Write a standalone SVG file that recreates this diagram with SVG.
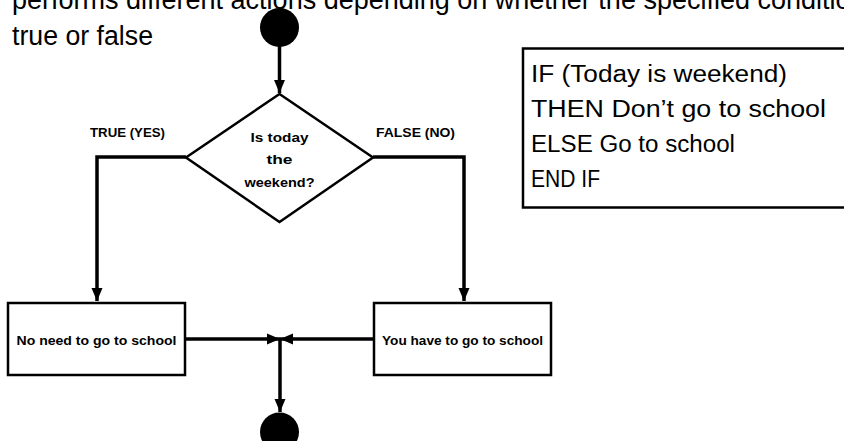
<svg xmlns="http://www.w3.org/2000/svg" width="844" height="441" viewBox="0 0 844 441">
<defs>
<style>
.intro{font-family:"Liberation Sans",Arial,sans-serif;font-size:27px;fill:#000}
.lbl{font-family:"Liberation Sans",Arial,sans-serif;font-size:13px;font-weight:bold;fill:#000}
.code{font-family:"Liberation Sans",Arial,sans-serif;font-size:23px;fill:#000}
.shape{fill:#fff;stroke:#000;stroke-width:2.5}
.term{fill:#000;stroke:none}
.conn{fill:none;stroke:#000;stroke-width:3.5;stroke-linejoin:miter}
</style>
<marker id="arr" markerUnits="userSpaceOnUse" markerWidth="14" markerHeight="14" viewBox="0 0 14 14" refX="13" refY="7" orient="auto">
<path d="M0,1.5 L13,7 L0,12.5 Z" fill="#000"/>
</marker>
</defs>
<rect width="844" height="441" fill="#fff"/>
<g id="intro-text">
<text class="intro" x="12" y="9">performs different actions depending on whether the specified condition is</text>
<text class="intro" x="12" y="45" textLength="141" lengthAdjust="spacingAndGlyphs">true or false</text>
</g>
<g id="connectors">
<path class="conn" d="M279.5,46 L279.5,93" marker-end="url(#arr)"/>
<path class="conn" d="M186,157 L97,157 L97,301" marker-end="url(#arr)"/>
<path class="conn" d="M373,157 L464,157 L464,301" marker-end="url(#arr)"/>
<path class="conn" d="M186,339 L280,339" marker-end="url(#arr)"/>
<path class="conn" d="M374,339 L280,339" marker-end="url(#arr)"/>
<path class="conn" d="M280,339 L280,412" marker-end="url(#arr)"/>
</g>
<g id="start">
<circle class="term" cx="279.5" cy="27.5" r="19.5"/>
</g>
<g id="decision">
<polygon class="shape" points="279.5,94 373,157.5 279.5,222 186,157.5"/>
<text class="lbl" x="279.5" y="141.5" text-anchor="middle" textLength="58" lengthAdjust="spacingAndGlyphs">Is today</text>
<text class="lbl" x="279.5" y="164" text-anchor="middle" textLength="26" lengthAdjust="spacingAndGlyphs">the</text>
<text class="lbl" x="279.5" y="187" text-anchor="middle" textLength="70" lengthAdjust="spacingAndGlyphs">weekend?</text>
</g>
<g id="true-label">
<text class="lbl" x="90" y="136.5" textLength="75" lengthAdjust="spacingAndGlyphs">TRUE (YES)</text>
</g>
<g id="false-label">
<text class="lbl" x="376" y="136.5" textLength="79" lengthAdjust="spacingAndGlyphs">FALSE (NO)</text>
</g>
<g id="no-school">
<rect class="shape" x="8" y="303" width="177" height="72"/>
<text class="lbl" x="96.5" y="344.5" text-anchor="middle" textLength="160" lengthAdjust="spacingAndGlyphs">No need to go to school</text>
</g>
<g id="go-school">
<rect class="shape" x="374" y="303" width="177" height="72"/>
<text class="lbl" x="462.5" y="344.5" text-anchor="middle" textLength="161" lengthAdjust="spacingAndGlyphs">You have to go to school</text>
</g>
<g id="end">
<circle class="term" cx="279.5" cy="432" r="19.5"/>
</g>
<g id="pseudocode">
<rect class="shape" x="523" y="48.5" width="340" height="159"/>
<text class="code" x="531" y="82" textLength="256" lengthAdjust="spacingAndGlyphs">IF (Today is weekend)</text>
<text class="code" x="531" y="117" textLength="295" lengthAdjust="spacingAndGlyphs">THEN Don’t go to school</text>
<text class="code" x="531" y="152" textLength="204" lengthAdjust="spacingAndGlyphs">ELSE Go to school</text>
<text class="code" x="531" y="187" textLength="69" lengthAdjust="spacingAndGlyphs">END IF</text>
</g>
</svg>
